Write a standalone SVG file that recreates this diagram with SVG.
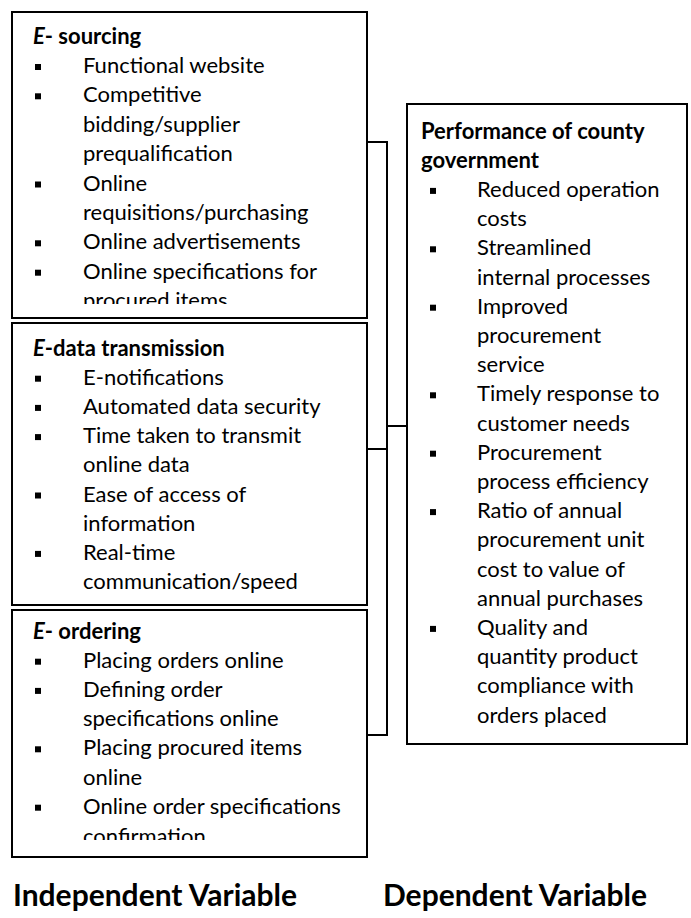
<svg xmlns="http://www.w3.org/2000/svg" width="691" height="918" viewBox="0 0 691 918">
<style>
.box{fill:#fff;stroke:#000;stroke-width:2}
.t{font-family:Lato,"Liberation Sans",sans-serif;font-size:22px;fill:#000}
.h{font-family:Lato,"Liberation Sans",sans-serif;font-size:22px;font-weight:bold;fill:#000}
.lbl{font-family:Lato,"Liberation Sans",sans-serif;font-size:30px;font-weight:bold;fill:#000}
.b{fill:#000}
.c{fill:none;stroke:#000;stroke-width:2}
</style>
<defs>
<rect id="bul" width="6" height="6" class="b"/>
<clipPath id="c1"><rect x="12" y="12" width="356" height="292"/></clipPath>
<clipPath id="c3"><rect x="12" y="610" width="356" height="230"/></clipPath>
</defs>
<g id="connectors">
<path class="c" d="M367 142H387V735H367M367 449H387M387 426H407"/>
</g>
<g id="esourcing">
<rect class="box" x="12" y="12" width="355" height="306"/>
<g clip-path="url(#c1)">
<text class="h" x="33" y="43.5"><tspan font-style="italic">E</tspan>- sourcing</text>
<use href="#bul" x="35" y="64"/><text class="t" x="83" y="73">Functional website</text>
<use href="#bul" x="35" y="93.3"/><text class="t" x="83" y="102.3">Competitive</text>
<text class="t" x="83" y="131.7">bidding/supplier</text>
<text class="t" x="83" y="161.1">prequalification</text>
<use href="#bul" x="35" y="181.5"/><text class="t" x="83" y="190.5">Online</text>
<text class="t" x="83" y="219.9">requisitions/purchasing</text>
<use href="#bul" x="35" y="240.3"/><text class="t" x="83" y="249.3">Online advertisements</text>
<use href="#bul" x="35" y="269.7"/><text class="t" x="83" y="278.7">Online specifications for</text>
<text class="t" x="83" y="308.1">procured items</text>
</g>
</g>
<g id="edata">
<rect class="box" x="12" y="323" width="355" height="282"/>
<text class="h" x="33" y="355.5"><tspan font-style="italic">E</tspan>-data transmission</text>
<use href="#bul" x="35" y="375.7"/><text class="t" x="83" y="384.7">E-notifications</text>
<use href="#bul" x="35" y="404.9"/><text class="t" x="83" y="413.9">Automated data security</text>
<use href="#bul" x="35" y="434.1"/><text class="t" x="83" y="443.1">Time taken to transmit</text>
<text class="t" x="83" y="472.3">online data</text>
<use href="#bul" x="35" y="492.5"/><text class="t" x="83" y="501.5">Ease of access of</text>
<text class="t" x="83" y="530.7">information</text>
<use href="#bul" x="35" y="550.9"/><text class="t" x="83" y="559.9">Real-time</text>
<text class="t" x="83" y="589.1">communication/speed</text>
</g>
<g id="eordering">
<rect class="box" x="12" y="610" width="355" height="247"/>
<g clip-path="url(#c3)">
<text class="h" x="33" y="638.5"><tspan font-style="italic">E</tspan>- ordering</text>
<use href="#bul" x="35" y="658.7"/><text class="t" x="83" y="667.7">Placing orders online</text>
<use href="#bul" x="35" y="687.9"/><text class="t" x="83" y="696.9">Defining order</text>
<text class="t" x="83" y="726.1">specifications online</text>
<use href="#bul" x="35" y="746.3"/><text class="t" x="83" y="755.3">Placing procured items</text>
<text class="t" x="83" y="784.5">online</text>
<use href="#bul" x="35" y="804.7"/><text class="t" x="83" y="813.7">Online order specifications</text>
<text class="t" x="83" y="843.5">confirmation</text>
</g>
</g>
<g id="performance">
<rect class="box" x="407" y="104" width="280" height="640"/>
<text class="h" x="421" y="139">Performance of county</text>
<text class="h" x="421" y="168.2">government</text>
<use href="#bul" x="430" y="187.9"/><text class="t" x="477" y="196.9">Reduced operation</text>
<text class="t" x="477" y="226.1">costs</text>
<use href="#bul" x="430" y="246.3"/><text class="t" x="477" y="255.3">Streamlined</text>
<text class="t" x="477" y="284.5">internal processes</text>
<use href="#bul" x="430" y="304.7"/><text class="t" x="477" y="313.7">Improved</text>
<text class="t" x="477" y="342.9">procurement</text>
<text class="t" x="477" y="372.1">service</text>
<use href="#bul" x="430" y="392.3"/><text class="t" x="477" y="401.3">Timely response to</text>
<text class="t" x="477" y="430.5">customer needs</text>
<use href="#bul" x="430" y="450.7"/><text class="t" x="477" y="459.7">Procurement</text>
<text class="t" x="477" y="488.9">process efficiency</text>
<use href="#bul" x="430" y="509.1"/><text class="t" x="477" y="518.1">Ratio of annual</text>
<text class="t" x="477" y="547.3">procurement unit</text>
<text class="t" x="477" y="576.5">cost to value of</text>
<text class="t" x="477" y="605.7">annual purchases</text>
<use href="#bul" x="430" y="625.9"/><text class="t" x="477" y="634.9">Quality and</text>
<text class="t" x="477" y="664.1">quantity product</text>
<text class="t" x="477" y="693.3">compliance with</text>
<text class="t" x="477" y="722.5">orders placed</text>
</g>
<text class="lbl" x="13" y="906">Independent Variable</text>
<text class="lbl" x="383" y="906">Dependent Variable</text>
</svg>
